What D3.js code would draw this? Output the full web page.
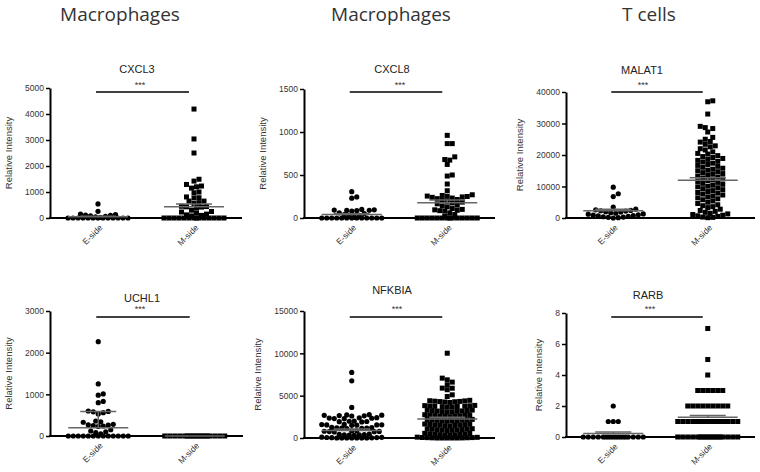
<!DOCTYPE html>
<html>
<head>
<meta charset="utf-8">
<script src="https://cdn.jsdelivr.net/npm/d3@7"></script>
<style>
  html, body { margin: 0; padding: 0; background: #fff; }
  svg { display: block; }
</style>
</head>
<body>
<svg id="chart" width="760" height="472"></svg>
<script>
// ---------------- DATA ----------------
const cellTypes = ["Macrophages", "Macrophages", "T cells"];
const genes = ["CXCL3", "CXCL8", "MALAT1", "UCHL1", "NFKBIA", "RARB"];
const groups = ["E-side", "M-side"];
const yLabel = "Relative Intensity";
const significance = ["***", "***", "***", "***", "***", "***"];

const yTicks = [
  [0, 1000, 2000, 3000, 4000, 5000],
  [0, 500, 1000, 1500],
  [0, 10000, 20000, 30000, 40000],
  [0, 1000, 2000, 3000],
  [0, 5000, 10000, 15000],
  [0, 2, 4, 6, 8]
];

const cxcl3E = [540, 255, 150, 130, 110, 100, 80, 60, 40, 20, 0, 0, 0, 0, 0, 0, 0, 0, 0, 0, 0, 0, 0];
const cxcl3M = [4190, 3040, 2500, 1490, 1420, 1290, 1230, 1200, 1150, 1000, 970, 810, 780, 770, 650, 650, 590, 556,
  450, 440, 430, 420, 400, 300, 250, 230, 200, 150, 120, 100, 80, 0, 0, 0, 0, 0, 0, 0, 0, 0, 0, 0, 0, 0, 0];

const cxcl8E = [306, 245, 230, 100, 95, 92, 90, 88, 85, 80, 60, 50, 40, 30, 20, 10, 0, 0, 0, 0, 0, 0, 0, 0, 0, 0, 0, 0, 0];
const cxcl8M = [961, 865, 865, 711, 680, 673, 623, 500, 488, 395, 317, 270, 262, 255, 252, 250, 245, 240, 232, 225,
  215, 205, 195, 185, 175, 165, 150, 140, 130, 110, 100, 95, 90, 85, 80, 60, 40, 20, 0, 0, 0, 0, 0, 0, 0, 0, 0, 0, 0, 0, 0, 0];

const malat1E = [9800, 7700, 6800, 3500, 2800, 2600, 2400, 2300, 2200, 2000, 1900, 1700, 1500, 1300, 1200, 1000,
  900, 800, 700, 500, 400, 300, 200, 100, 0];
const malat1M = [36900, 37200, 33000, 29100, 28700, 28400, 27300, 25600, 25000, 24300, 24100, 23400, 22900, 22600,
  22000, 21600, 21000, 20500, 20300, 19800, 19500, 19200, 18900, 18600, 18300, 18000, 17800, 17400, 17000, 16700,
  16400, 16100, 15800, 15500, 15200, 15000, 14700, 14400, 14100, 13900, 13600, 13300, 13000, 12700, 12400, 12100,
  11900, 11600, 11300, 11000, 10700, 10400, 10100, 9900, 9600, 9300, 9000, 8700, 8400, 8100, 7900, 7600, 7300, 7000,
  6700, 6400, 6100, 5800, 5400, 5000, 4600, 4200, 3900, 3600, 3300, 2800, 2400, 2100, 1800, 1500, 1300, 1100, 900,
  700, 500, 300, 200, 100];

const uchl1E = [2264, 1250, 1010, 980, 830, 800, 600, 590, 580, 560, 530, 360, 340, 330, 280, 270, 260, 250, 240, 230,
  150, 120, 100, 80, 50, 0, 0, 0, 0, 0, 0, 0, 0, 0, 0, 0, 0, 0];
const uchl1M = [0, 0, 0, 0, 0, 0, 0, 0, 0, 0, 0, 0, 0, 0, 0, 0, 0, 0];

const nfkbiaE = [7740, 6750, 3610, 2750, 2720, 2700, 2680, 2650, 2620, 2600, 2400, 2380, 2350, 2330, 2300, 2280, 2000,
  1980, 1950, 1930, 1900, 1600, 1580, 1560, 1550, 1540, 1520, 1500, 1250, 1220, 1200, 1180, 1160, 1150, 1120, 850, 830,
  800, 780, 760, 750, 720, 450, 430, 400, 380, 360, 350, 320, 100, 80, 60, 50, 40, 20, 0, 0, 0, 0, 0, 0, 0];
const nfkbiaM = [10014, 7070, 6870, 6600, 6280, 5890, 5880, 5700, 5100, 4900, 4450, 4400, 4380, 4350, 4320, 4300, 4280,
  4250, 4200, 3850, 3820, 3800, 3780, 3760, 3740, 3720, 3700, 3680, 3650, 3300, 3280, 3250, 3230, 3200, 3180, 3150,
  3120, 3100, 3080, 2750, 2720, 2700, 2680, 2650, 2620, 2600, 2580, 2550, 2520, 2200, 2180, 2150, 2130, 2100, 2080,
  2050, 2020, 2000, 1980, 1650, 1620, 1600, 1580, 1550, 1520, 1500, 1480, 1450, 1420, 1100, 1080, 1050, 1030, 1000,
  980, 950, 920, 900, 880, 550, 530, 500, 480, 450, 430, 400, 380, 350, 330, 100, 80, 60, 50, 40, 30, 20, 10, 0, 0, 0, 0, 0];

const rarbE = [2, 1, 1, 1, 0, 0, 0, 0, 0, 0, 0, 0, 0, 0, 0, 0, 0, 0, 0, 0, 0, 0];
const rarbM = [7, 5, 4, 3, 3, 3, 3, 3, 3, 2, 2, 2, 2, 2, 2, 2, 2, 2,
  1, 1, 1, 1, 1, 1, 1, 1, 1, 1, 1, 1, 1, 1, 1, 1, 1, 1, 1, 1,
  0, 0, 0, 0, 0, 0, 0, 0, 0, 0, 0, 0, 0, 0, 0, 0, 0, 0];

const seriesValues = [
  [cxcl3E, cxcl3M], [cxcl8E, cxcl8M], [malat1E, malat1M],
  [uchl1E, uchl1M], [nfkbiaE, nfkbiaM], [rarbE, rarbM]
];
// group means and upper error
const means = [[50, 430], [40, 178], [2300, 12000], [200, 0], [900, 2240], [0.23, 1.27]];
const errs  = [[20, 110], [10, 30], [500, 800], [390, 0], [150, 200], [0.1, 0.12]];

// ---------------- LAYOUT ----------------
const svg = d3.select("#chart");
svg.append("rect").attr("width", 760).attr("height", 472).attr("fill", "#fff");

const headerX = [120, 391, 649];
svg.selectAll("text.header").data(cellTypes).join("text")
  .attr("class", "header")
  .attr("x", (d, i) => headerX[i]).attr("y", 21)
  .attr("text-anchor", "middle")
  .attr("font-family", "'Open Sans', 'Noto Sans', sans-serif")
  .attr("font-size", 19).attr("fill", "#333")
  .text(d => d);

const layout = [
  { ax: 50,  right: 242, top: 88,  bottom: 218, titleX: 137, titleY: 73,  starX: 140, starY: 88,  sigY: 92 },
  { ax: 304, right: 495, top: 89,  bottom: 218, titleX: 392, titleY: 73,  starX: 400, starY: 88,  sigY: 92 },
  { ax: 566, right: 755, top: 92,  bottom: 218, titleX: 642, titleY: 74,  starX: 643, starY: 88,  sigY: 92 },
  { ax: 50,  right: 243, top: 311, bottom: 436, titleX: 142, titleY: 302, starX: 140, starY: 312, sigY: 317 },
  { ax: 304, right: 495, top: 311, bottom: 438, titleX: 392, titleY: 294, starX: 397, starY: 312, sigY: 317 },
  { ax: 566, right: 755, top: 313, bottom: 437, titleX: 648, titleY: 299, starX: 650, starY: 312, sigY: 317 }
];

const FONT = "'Liberation Sans', Arial, sans-serif";
const D = 5;          // marker spacing
const HALF = 30;      // max half-width of a swarm

function swarm(values, cx, y) {
  const pts = values.map(v => ({ v, y: y(v) })).sort((a, b) => a.v - b.v);
  const placed = [];
  const cands = [0];
  for (let k = 1; k * 2.5 <= HALF; k++) { cands.push(k * 2.5, -k * 2.5); }
  const thr = (D * 0.95) * (D * 0.95);
  pts.forEach(p => {
    let best = null, bestScore = -1;
    for (const off of cands) {
      let minD = Infinity;
      for (const q of placed) {
        const dx = q.off - off, dy = q.y - p.y;
        const dd = dx * dx + dy * dy;
        if (dd < minD) minD = dd;
      }
      if (minD >= thr) { best = off; bestScore = Infinity; break; }
      if (minD > bestScore) { bestScore = minD; best = off; }
    }
    p.off = best;
    placed.push(p);
  });
  return pts.map(p => ({ v: p.v, x: cx + p.off, y: p.y }));
}

layout.forEach((L, i) => {
  const g = svg.append("g");
  const ticks = yTicks[i];
  const y = d3.scaleLinear().domain([0, ticks[ticks.length - 1]]).range([L.bottom, L.top]);
  const x = d3.scalePoint().domain(groups).range([L.ax, L.right]).padding(0.5);

  // y axis
  const yAxis = g.append("g").attr("transform", `translate(${L.ax},0)`)
    .call(d3.axisLeft(y).tickValues(ticks).tickSize(4).tickSizeOuter(0).tickPadding(2).tickFormat(d3.format("d")));
  yAxis.select(".domain").attr("stroke", "#000").attr("stroke-width", 2);
  yAxis.selectAll(".tick line").attr("stroke", "#000").attr("stroke-width", 1.5);
  yAxis.selectAll(".tick text").attr("font-family", FONT).attr("font-size", 8.5).attr("fill", "#333");
  const bb = yAxis.node().getBBox();

  // y label
  g.append("text")
    .attr("transform", `translate(${L.ax + bb.x - 13},${(L.top + L.bottom) / 2}) rotate(-90)`)
    .attr("text-anchor", "middle")
    .attr("font-family", FONT).attr("font-size", 9.5).attr("fill", "#333")
    .text(yLabel);

  // x axis line
  g.append("line").attr("x1", L.ax - 1).attr("x2", L.right).attr("y1", L.bottom).attr("y2", L.bottom)
    .attr("stroke", "#000").attr("stroke-width", 2);

  // category labels
  groups.forEach(gr => {
    g.append("text")
      .attr("transform", `translate(${x(gr) + 3},${L.bottom + 8}) rotate(-45)`)
      .attr("text-anchor", "end").attr("dy", "0.35em")
      .attr("font-family", FONT).attr("font-size", 8.5).attr("fill", "#333")
      .text(gr);
  });

  // title
  g.append("text").attr("x", L.titleX).attr("y", L.titleY).attr("text-anchor", "middle")
    .attr("font-family", FONT).attr("font-size", 11).attr("fill", "#222").text(genes[i]);
  // stars
  g.append("text").attr("x", L.starX).attr("y", L.starY).attr("text-anchor", "middle")
    .attr("font-family", FONT).attr("font-size", 9).attr("fill", "#333").text(significance[i]);
  // significance bar
  g.append("line").attr("x1", x(groups[0]) - 2).attr("x2", x(groups[1]) - 5)
    .attr("y1", L.sigY).attr("y2", L.sigY).attr("stroke", "#000").attr("stroke-width", 1.5);

  // points
  const [eVals, mVals] = seriesValues[i];
  const ePts = swarm(eVals, x(groups[0]), y);
  const mPts = swarm(mVals, x(groups[1]), y);
  g.append("g").selectAll("circle").data(ePts).join("circle")
    .attr("cx", d => d.x).attr("cy", d => d.y).attr("r", 2.6).attr("fill", "#000");
  g.append("g").selectAll("rect").data(mPts).join("rect")
    .attr("x", d => d.x - 2.5).attr("y", d => d.y - 2.5).attr("width", 5).attr("height", 5).attr("fill", "#000");

  // mean and error bars
  groups.forEach((gr, j) => {
    const cx = x(gr), m = means[i][j], e = errs[i][j];
    const mg = g.append("g").attr("stroke", "#666").attr("stroke-width", 1.5);
    mg.append("line").attr("x1", cx - HALF).attr("x2", cx + HALF).attr("y1", y(m)).attr("y2", y(m));
    if (e > 0) {
      mg.append("line").attr("x1", cx).attr("x2", cx).attr("y1", y(m)).attr("y2", y(m + e));
      mg.append("line").attr("x1", cx - 18).attr("x2", cx + 18).attr("y1", y(m + e)).attr("y2", y(m + e));
    }
  });
});
</script>
</body>
</html>
